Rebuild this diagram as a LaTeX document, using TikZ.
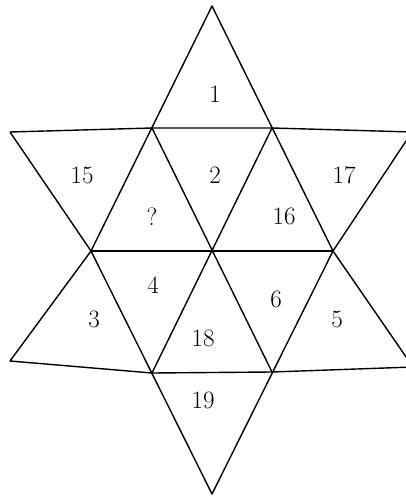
\documentclass[tikz,border=0pt]{standalone}
\usepackage{tikz}
\usetikzlibrary{positioning}

\begin{document}
\begin{tikzpicture}[x=1pt, y=-1pt,
    edge/.style={black, line width=1.4pt, line join=round},
    num/.style={font=\fontsize{25}{30}\selectfont, inner sep=0pt}]
    \clip (0,0) rectangle (406,497);
    % corners of the star
    \coordinate (top) at (212,6);
    \coordinate (a) at (152,128);
    \coordinate (b) at (272,128);
    \coordinate (l1) at (10,132);
    \coordinate (r1) at (412,132);
    \coordinate (m1) at (91,251);
    \coordinate (m2) at (211,251);
    \coordinate (m3) at (333,251);
    \coordinate (l2) at (10,361);
    \coordinate (r2) at (413,367);
    \coordinate (c) at (152,373);
    \coordinate (d) at (272,372);
    \coordinate (bot) at (212,494);
    % lines
    \draw[edge] (l1) -- (a) -- (b) -- (r1);
    \draw[edge] (top) -- (m1) -- (bot) -- (m3) -- cycle;
    \draw[edge] (a) -- (d);
    \draw[edge] (b) -- (c);
    \draw[edge] (m1) -- (m3);
    \draw[edge] (r1) -- (m3) -- (r2) -- (d) -- (c) -- (l2) -- (m1) -- (l1);
    % numbers
    \foreach \x/\y/\txt/\nm in {215/94/1/one, 82/175/15/fifteen, 215/175/2/two,
        344/175/17/seventeen, 152/217/?/ask, 284/216/16/sixteen, 153/285/4/four,
        94/319/3/three, 276/299/6/six, 337/319/5/five, 203/338/18/eighteen,
        203/400/19/nineteen} {
      \node[num] (\nm) at (\x,\y) {\txt};
    }
\end{tikzpicture}
\end{document}
